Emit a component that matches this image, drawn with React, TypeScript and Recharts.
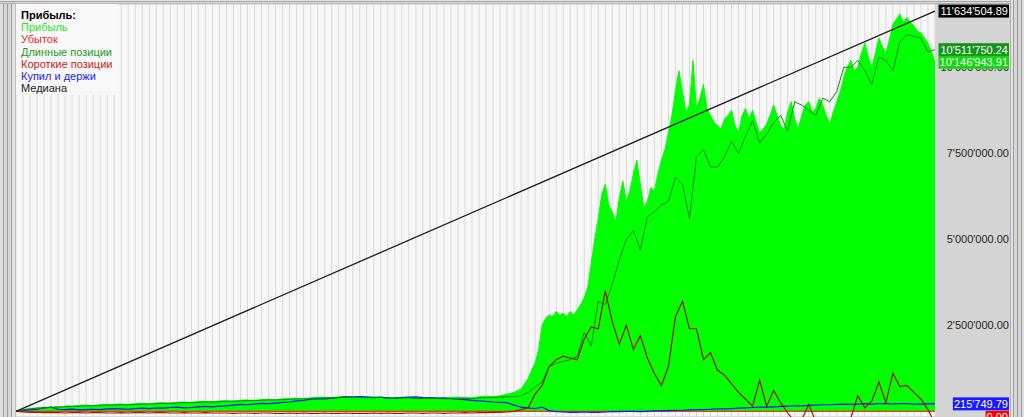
import {
	Area,
	CartesianGrid,
	ComposedChart,
	Legend,
	Line,
	ReferenceLine,
	XAxis,
	YAxis,
} from 'recharts'

// values in millions; profit is sampled twice per grid column, the rest once
const profitFine = [
	0, 0.03, 0.05, 0.07, 0.08, 0.09, 0.1, 0.11, 0.12, 0.11,
	0.12, 0.13, 0.14, 0.13, 0.15, 0.16, 0.15, 0.16, 0.17, 0.18,
	0.18, 0.17, 0.17, 0.18, 0.19, 0.2, 0.2, 0.19, 0.2, 0.21,
	0.21, 0.2, 0.2, 0.21, 0.22, 0.23, 0.23, 0.22, 0.22, 0.23,
	0.24, 0.25, 0.25, 0.24, 0.24, 0.25, 0.26, 0.27, 0.27, 0.26,
	0.26, 0.27, 0.28, 0.29, 0.29, 0.28, 0.28, 0.29, 0.3, 0.31,
	0.31, 0.3, 0.3, 0.31, 0.32, 0.33, 0.33, 0.32, 0.32, 0.33,
	0.34, 0.35, 0.35, 0.34, 0.34, 0.35, 0.36, 0.37, 0.37, 0.38,
	0.38, 0.37, 0.37, 0.38, 0.39, 0.4, 0.4, 0.41, 0.41, 0.4,
	0.4, 0.41, 0.42, 0.43, 0.43, 0.42, 0.42, 0.41, 0.41, 0.4,
	0.4, 0.41, 0.42, 0.41, 0.41, 0.4, 0.39, 0.39, 0.4, 0.4,
	0.41, 0.41, 0.4, 0.39, 0.38, 0.38, 0.39, 0.39, 0.4, 0.4,
	0.39, 0.38, 0.38, 0.39, 0.4, 0.41, 0.41, 0.4, 0.4, 0.39,
	0.39, 0.4, 0.42, 0.43, 0.44, 0.44, 0.43, 0.44, 0.45, 0.47,
	0.5, 0.52, 0.55, 0.6, 0.65, 0.8, 0.95, 1.2, 1.4, 1.8,
	2.5, 2.7, 2.8, 2.75, 2.9, 2.8, 2.85, 2.75, 2.9, 2.8,
	2.95, 3.1, 3.3, 3.6, 4.3, 5.0, 5.6, 6.3, 6.6, 6.0,
	5.8, 5.5, 6.2, 6.7, 6.1, 6.4, 6.9, 7.3, 6.6, 5.9,
	6.1, 6.5, 6.4, 6.9, 7.3, 7.6, 8.1, 8.6, 9.3, 9.9,
	9.3, 8.7, 8.9, 10.2, 8.8, 9.1, 9.5, 8.8, 8.6, 8.4,
	8.3, 8.2, 8.5, 8.6, 8.75, 8.3, 8.1, 8.6, 8.8, 8.5,
	8.75, 8.4, 8.1, 8.2, 8.35, 8.6, 8.9, 8.6, 8.3, 8.2,
	8.7, 9.0, 8.5, 8.2, 8.6, 8.9, 9.0, 8.7, 8.8, 9.1,
	8.9, 8.6, 8.35, 8.7, 9.0, 9.3, 9.7, 10.0, 10.2, 9.9,
	10.0, 10.4, 10.7, 10.3, 10.0, 10.4, 10.85, 10.6, 10.4, 10.8,
	11.25, 11.4, 11.55, 11.3, 11.45, 11.3, 11.2, 11.05, 11.0, 10.85,
	10.7, 10.45, 10.14694391,
]

const longPos = [
	0, 0.04, 0.07, 0.09, 0.1, 0.11, 0.12, 0.13, 0.14, 0.15,
	0.16, 0.16, 0.17, 0.18, 0.18, 0.19, 0.19, 0.2, 0.21, 0.21,
	0.22, 0.23, 0.23, 0.24, 0.25, 0.25, 0.26, 0.27, 0.27, 0.28,
	0.29, 0.29, 0.3, 0.31, 0.31, 0.32, 0.33, 0.33, 0.34, 0.35,
	0.36, 0.36, 0.37, 0.38, 0.39, 0.39, 0.4, 0.41, 0.41, 0.4,
	0.39, 0.4, 0.4, 0.38, 0.38, 0.39, 0.39, 0.37, 0.37, 0.38,
	0.37, 0.36, 0.37, 0.38, 0.38, 0.37, 0.39, 0.4, 0.4, 0.41,
	0.42, 0.43, 0.45, 0.55, 0.7, 0.85, 1.3, 1.4, 1.45, 1.5,
	1.6, 2.3, 1.9, 3.2, 3.1, 3.7, 4.4, 5.0, 5.25, 4.7,
	5.65, 5.8, 6.0, 6.1, 6.8, 6.6, 5.6, 7.4, 7.6, 7.1,
	7.1, 7.4, 7.85, 7.5, 8.0, 8.45, 7.8, 8.05, 8.4, 8.6,
	8.15, 9.0, 8.9, 8.75, 8.6, 9.1, 9.0, 9.3, 10.0, 10.0,
	10.2, 9.9, 9.5, 10.3, 10.2, 9.9, 10.75, 10.95, 10.9, 10.85,
	10.45, 10.51175024,
]

const shortPos = [
	0, -0.02, -0.03, -0.03, -0.04, -0.03, -0.04, -0.05, -0.04, -0.04,
	-0.05, -0.04, -0.04, -0.05, -0.05, -0.04, -0.05, -0.04, -0.04, -0.05,
	-0.04, -0.04, -0.05, -0.05, -0.04, -0.05, -0.05, -0.04, -0.05, -0.05,
	-0.05, -0.06, -0.05, -0.05, -0.06, -0.05, -0.05, -0.06, -0.06, -0.05,
	-0.06, -0.05, -0.06, -0.06, -0.05, -0.06, -0.06, -0.05, -0.06, -0.06,
	-0.06, -0.05, -0.06, -0.05, -0.06, -0.06, -0.05, -0.05, -0.06, -0.05,
	-0.05, -0.06, -0.05, -0.05, -0.04, -0.05, -0.04, -0.04, -0.03, -0.03,
	-0.02, 0.0, 0.05, 0.1, 0.5, 0.75, 1.3, 1.5, 1.6, 1.55,
	1.5, 2.1, 2.45, 2.4, 3.5, 2.6, 1.95, 2.5, 1.8, 2.2,
	1.55, 1.1, 0.75, 1.3, 2.75, 3.2, 2.4, 2.4, 1.5, 1.7,
	1.2, 1.05, 0.8, 0.55, 0.35, 0.15, 0.9, 0.15, 0.6, 0.25,
	-0.05, -0.3, -0.25, 0.2, -0.3, -0.25, -0.3, -0.25, -0.3, -0.2,
	0.45, 0.1, 0.3, 0.85, 0.25, 1.1, 0.72, 0.75, 0.55, 0.35,
	0.05, -0.365,
]

const buyHold = [
	0, 0.02, 0.04, 0.06, 0.1, 0.12, 0.06, 0.05, 0.06, 0.04,
	0.05, 0.06, 0.05, 0.07, 0.08, 0.07, 0.06, 0.08, 0.09, 0.08,
	0.1, 0.09, 0.11, 0.12, 0.1, 0.11, 0.13, 0.14, 0.13, 0.15,
	0.16, 0.18, 0.2, 0.19, 0.21, 0.23, 0.22, 0.24, 0.26, 0.27,
	0.3, 0.32, 0.35, 0.37, 0.36, 0.38, 0.4, 0.42, 0.41, 0.43,
	0.42, 0.4, 0.41, 0.39, 0.38, 0.4, 0.41, 0.42, 0.4, 0.39,
	0.38, 0.39, 0.37, 0.35, 0.34, 0.32, 0.3, 0.29, 0.27, 0.26,
	0.25, 0.18, 0.12, 0.1, 0.08, 0.12, 0.02, -0.01, -0.02, -0.03,
	-0.03, -0.02, -0.03, -0.03, -0.02, -0.01, -0.01, 0.0, 0.0, -0.01,
	0.0, 0.01, 0.01, 0.02, 0.03, 0.03, 0.04, 0.05, 0.05, 0.06,
	0.07, 0.07, 0.08, 0.09, 0.1, 0.11, 0.12, 0.12, 0.13, 0.14,
	0.15, 0.16, 0.16, 0.17, 0.18, 0.19, 0.19, 0.2, 0.21, 0.2,
	0.21, 0.22, 0.21, 0.22, 0.22, 0.21, 0.22, 0.22, 0.21, 0.21,
	0.22, 0.21574979,
]

const medianStart = 0
const medianEnd = 11.63450489
const lossValue = 0

const yTicks = [2.5, 5, 7.5, 10]

const COLORS = {
	profit: '#00ff00',
	loss: '#ff0000',
	long: '#128a12',
	short: '#a01800',
	hold: '#1414ff',
	median: '#1a1a1a',
}

const legendItems = [
	{ name: 'Прибыль', color: '#22e622' },
	{ name: 'Убыток', color: '#ee1c1c' },
	{ name: 'Длинные позиции', color: '#1d9a1d' },
	{ name: 'Короткие позиции', color: '#c21a1a' },
	{ name: 'Купил и держи', color: '#1c1ce6' },
	{ name: 'Медиана', color: '#202020' },
]

const FONT = '"Liberation Sans", Arial, sans-serif'

const lastIndex = longPos.length - 1

const chartData = longPos.map((l, i) => ({
	x: i,
	long: l,
	short: shortPos[i],
	hold: buyHold[i],
	median: i === 0 ? medianStart : i === lastIndex ? medianEnd : null,
	loss: i === 0 || i === lastIndex ? lossValue : null,
}))

const profitData = profitFine.map((p, j) => ({ x: j / 2, profit: p }))

const xTicks = chartData.map((d) => d.x)

const profitEnd = profitFine[profitFine.length - 1]
const longEnd = longPos[lastIndex]
const holdEnd = buyHold[lastIndex]

function fmt(v: number) {
	const [int, dec] = (v * 1e6).toFixed(2).split('.')
	return int.replace(/\B(?=(\d{3})+(?!\d))/g, "'") + '.' + dec
}

function textWidth(s: string) {
	let w = 0
	for (const ch of s) {
		if (ch === "'") w += 2.1
		else if (ch === '.') w += 3.06
		else w += 6.12
	}
	return w
}

// right-hand axis text, drawn as reference-line labels so the value badges can sit over it
function TickText(props: any) {
	const { viewBox, text } = props
	const right = viewBox.x + viewBox.width + 74
	return (
		<text
			x={right}
			y={viewBox.y}
			dy={4}
			textAnchor="end"
			fill="#1e1e1e"
			fontSize={11}
			fontFamily={FONT}
		>
			{text}
		</text>
	)
}

function Badge(props: any) {
	const { viewBox, text, bg, dy = 0 } = props
	const right = viewBox.x + viewBox.width + 73
	const cy = viewBox.y + dy
	const w = textWidth(text)
	return (
		<g>
			<rect x={right - w - 1} y={cy - 6.5} width={w + 2} height={13} fill={bg} />
			<text
				x={right}
				y={cy}
				dy={4}
				textAnchor="end"
				fill="#ffffff"
				fontSize={11}
				fontFamily={FONT}
			>
				{text}
			</text>
		</g>
	)
}

const LegendBox = () => (
	<div
		style={{
			padding: '5px 0 0 5px',
			fontFamily: FONT,
			fontSize: 11,
			lineHeight: '12.2px',
			textAlign: 'left',
			whiteSpace: 'nowrap',
		}}
	>
		<div style={{ fontWeight: 'bold', color: '#000' }}>Прибыль:</div>
		{legendItems.map((item) => (
			<div key={item.name} style={{ color: item.color }}>
				{item.name}
			</div>
		))}
	</div>
)

const edgeV =
	'linear-gradient(to right, #dedede 0 3px, #9c9c9c 3px 4px, #d6d6d6 4px 7px, #9c9c9c 7px 8px, #d6d6d6 8px 11px, #9c9c9c 11px 12px, #e2e2e2 12px 15px, #a6a6a6 15px 16px)'

export default function App() {
	return (
		<div
			style={{
				position: 'fixed',
				left: 0,
				top: 0,
				width: 1024,
				height: 417,
				background: '#d4d4d4',
				overflow: 'hidden',
			}}
		>
			<div style={{ position: 'absolute', left: 0, top: 0, width: 16, height: 417, background: edgeV }} />
			<div
				style={{
					position: 'absolute',
					left: 0,
					top: 0,
					width: 1024,
					height: 4,
					background: 'linear-gradient(to bottom, #e2e2e2 0 1px, #a6a6a6 1px 2px, #d6d6d6 2px 3px, #b0b0b0 3px 4px)',
				}}
			/>
			<div
				style={{
					position: 'absolute',
					left: 1010,
					top: 0,
					width: 14,
					height: 417,
					background:
						'linear-gradient(to right, #b0b0b0 0 1px, #e0e0e0 1px 3px, #9c9c9c 3px 4px, #d6d6d6 4px 7px, #9c9c9c 7px 8px, #d6d6d6 8px 11px, #9c9c9c 11px 12px, #dedede 12px 14px)',
				}}
			/>
			<div style={{ position: 'absolute', left: 0, top: 0 }}>
				<ComposedChart
					width={1010}
					height={417}
					data={chartData}
					margin={{ top: 4, right: 0, bottom: 0, left: 16 }}
				>
					<CartesianGrid
						fill="#f7f7f7"
						horizontal={false}
						stroke="#d9d9d9"
						strokeWidth={1}
					/>
					<CartesianGrid vertical={false} stroke="#c6c6c6" strokeWidth={1} />
					<XAxis
						dataKey="x"
						type="number"
						domain={[0, lastIndex]}
						ticks={xTicks}
						interval={0}
						hide
					/>
					<YAxis
						orientation="right"
						width={75}
						domain={[-0.166, 11.84]}
						allowDataOverflow
						ticks={yTicks}
						axisLine={false}
						tickLine={false}
						tick={false}
					/>
					<Line
						dataKey="loss"
						stroke={COLORS.loss}
						strokeWidth={1}
						dot={false}
						connectNulls
						isAnimationActive={false}
					/>
					<Area
						data={profitData}
						dataKey="profit"
						type="linear"
						fill={COLORS.profit}
						fillOpacity={1}
						stroke={COLORS.profit}
						strokeWidth={1}
						isAnimationActive={false}
					/>
					<Line
						dataKey="hold"
						stroke={COLORS.hold}
						strokeWidth={1.2}
						dot={false}
						isAnimationActive={false}
					/>
					<Line
						dataKey="long"
						stroke={COLORS.long}
						strokeWidth={1}
						dot={false}
						isAnimationActive={false}
					/>
					<Line
						dataKey="short"
						stroke={COLORS.short}
						strokeWidth={1.2}
						dot={false}
						isAnimationActive={false}
					/>
					<Line
						dataKey="median"
						stroke={COLORS.median}
						strokeWidth={1.3}
						dot={false}
						connectNulls
						isAnimationActive={false}
					/>
					<Legend
						layout="vertical"
						align="center"
						verticalAlign="middle"
						content={<LegendBox />}
						wrapperStyle={{
							left: 16,
							top: 4,
							width: 102,
							height: 91,
							background: '#f8f8f8',
						}}
					/>
					{yTicks.map((t) => (
						<ReferenceLine
							key={t}
							y={t}
							stroke="none"
							label={<TickText text={fmt(t)} />}
						/>
					))}
					<ReferenceLine
						y={medianEnd}
						stroke="none"
						label={<Badge text={fmt(medianEnd)} bg="#000000" />}
					/>
					<ReferenceLine
						y={longEnd}
						stroke="none"
						label={<Badge text={fmt(longEnd)} bg="#14941a" />}
					/>
					<ReferenceLine
						y={profitEnd}
						stroke="none"
						label={<Badge text={fmt(profitEnd)} bg="#12d812" />}
					/>
					<ReferenceLine
						y={holdEnd}
						stroke="none"
						label={<Badge text={fmt(holdEnd)} bg="#1a1aff" />}
					/>
					<ReferenceLine
						y={lossValue}
						stroke="none"
						label={<Badge text={fmt(lossValue)} bg="#ff0000" dy={6} />}
					/>
				</ComposedChart>
			</div>
		</div>
	)
}
